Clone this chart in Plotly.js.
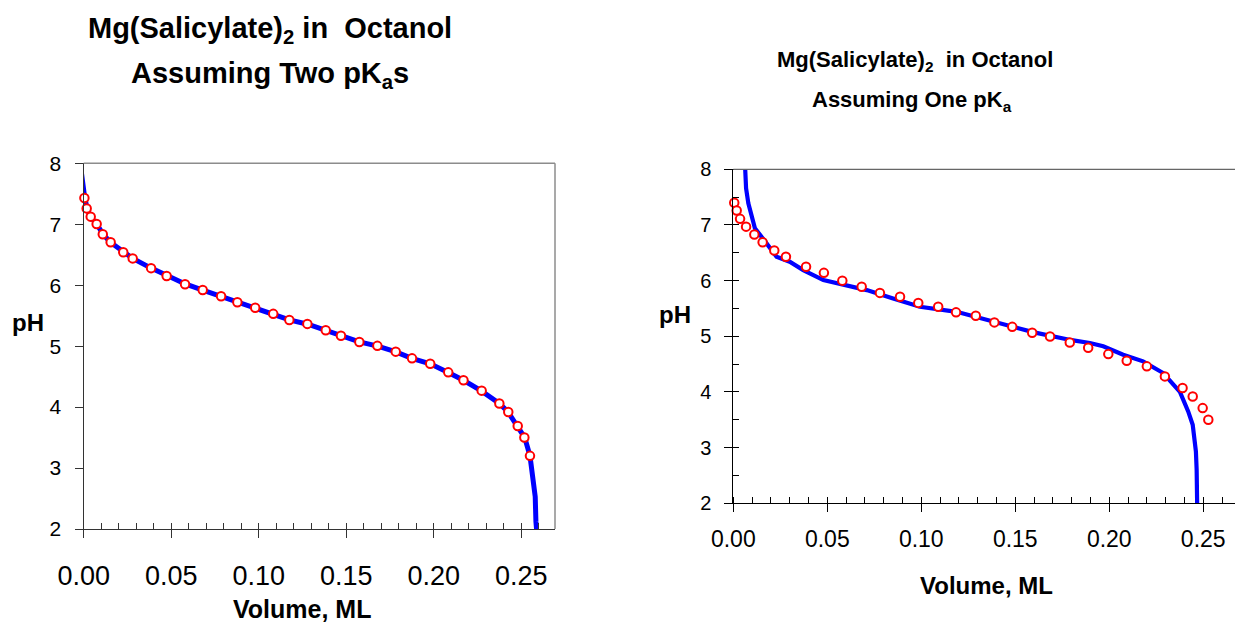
<!DOCTYPE html>
<html>
<head>
<meta charset="utf-8">
<script src="https://cdn.plot.ly/plotly-3.0.1.min.js"></script>
<style>html,body{margin:0;padding:0;background:#fff;}#chart{width:1235px;height:624px;}</style>
</head>
<body>
<div id="chart"></div>
<script>
// ---- Data ----
const leftVolObs = [-0.001, 0.0004, 0.0017, 0.004, 0.0074, 0.0109, 0.0154, 0.0226, 0.028, 0.0385, 0.0474, 0.0579, 0.068, 0.0785, 0.0878, 0.098, 0.1083, 0.1175, 0.1278, 0.1383, 0.147, 0.1575, 0.1678, 0.1783, 0.1876, 0.198, 0.2083, 0.217, 0.2274, 0.2375, 0.2426, 0.248, 0.2518, 0.255];
const leftPhObs = [7.45, 7.43, 7.26, 7.125, 7.005, 6.836, 6.705, 6.54, 6.44, 6.28, 6.15, 6.016, 5.92, 5.82, 5.72, 5.63, 5.53, 5.43, 5.365, 5.26, 5.17, 5.067, 5.005, 4.91, 4.80, 4.71, 4.57, 4.44, 4.27, 4.06, 3.92, 3.69, 3.50, 3.20];

const leftVolFit = [-0.0025, -0.0017, -0.0006, 0.0005, 0.002, 0.004, 0.0075, 0.011, 0.015, 0.0225, 0.028, 0.0385, 0.0475, 0.058, 0.068, 0.0785, 0.088, 0.098, 0.108, 0.1175, 0.128, 0.138, 0.147, 0.1575, 0.168, 0.178, 0.1875, 0.198, 0.208, 0.217, 0.227, 0.2375, 0.2425, 0.248, 0.252, 0.255, 0.2565, 0.258, 0.2584, 0.2592];
const leftPhFit = [8.11, 7.89, 7.67, 7.45, 7.25, 7.12, 7.0, 6.84, 6.71, 6.54, 6.44, 6.28, 6.15, 6.02, 5.92, 5.82, 5.72, 5.63, 5.53, 5.43, 5.36, 5.26, 5.17, 5.07, 5.0, 4.91, 4.80, 4.71, 4.57, 4.44, 4.27, 4.06, 3.92, 3.69, 3.50, 3.20, 2.9, 2.53, 2.12, 1.85];

const rightVolObs = [-0.0009, 0.0005, 0.0018, 0.0036, 0.0068, 0.0112, 0.0156, 0.0218, 0.028, 0.0387, 0.0482, 0.058, 0.0683, 0.078, 0.0887, 0.0984, 0.109, 0.1185, 0.129, 0.1389, 0.1484, 0.159, 0.1685, 0.179, 0.1888, 0.1995, 0.2093, 0.22, 0.2296, 0.239, 0.2444, 0.2497, 0.2527];
const rightPhObs = [7.44, 7.40, 7.26, 7.11, 6.97, 6.83, 6.69, 6.54, 6.43, 6.25, 6.14, 6.0, 5.89, 5.78, 5.71, 5.60, 5.53, 5.43, 5.37, 5.25, 5.17, 5.065, 4.995, 4.89, 4.795, 4.68, 4.56, 4.46, 4.28, 4.07, 3.92, 3.71, 3.50];

const rightVolFit = [0.0062, 0.0065, 0.0068, 0.008, 0.0098, 0.0115, 0.0177, 0.023, 0.030, 0.0372, 0.0479, 0.0603, 0.071, 0.085, 0.0993, 0.1188, 0.14, 0.16, 0.180, 0.1897, 0.1968, 0.2074, 0.218, 0.2287, 0.2376, 0.242, 0.2444, 0.2452, 0.2461, 0.2465, 0.2468];
const rightPhFit = [8.1, 7.9, 7.66, 7.39, 7.18, 6.94, 6.67, 6.43, 6.34, 6.19, 6.01, 5.92, 5.83, 5.68, 5.53, 5.44, 5.25, 5.07, 4.93, 4.88, 4.82, 4.67, 4.55, 4.34, 4.0, 3.65, 3.41, 3.20, 2.93, 2.6, 1.91];

const xTickVals = [0, 0.05, 0.10, 0.15, 0.20, 0.25];
const xTickText = ['0.00', '0.05', '0.10', '0.15', '0.20', '0.25'];
const yTickVals = [2, 3, 4, 5, 6, 7, 8];

const leftTitle1 = 'Mg(Salicylate)<sub>2</sub> in&nbsp; Octanol';
const leftTitle2 = 'Assuming Two pK<sub>a</sub>s';
const rightTitle1 = 'Mg(Salicylate)<sub>2</sub>&nbsp; in Octanol';
const rightTitle2 = 'Assuming One pK<sub>a</sub>';
const yTitle = 'pH';
const xTitle = 'Volume, ML';

// ---- Layout helpers ----
const W = 1235, H = 624;
const FONT = 'Arial, "Liberation Sans", sans-serif';
const px = v => v / W;
const py = v => 1 - v / H;

const traces = [
  {x: leftVolFit, y: leftPhFit, xaxis: 'x', yaxis: 'y', mode: 'lines',
   line: {color: '#0000ff', width: 5}, hoverinfo: 'skip'},
  {x: leftVolObs, y: leftPhObs, xaxis: 'x', yaxis: 'y', mode: 'markers', cliponaxis: false,
   marker: {symbol: 'circle', size: 8.5, color: '#ffffff', line: {color: '#ff0000', width: 2}}},
  {x: rightVolFit, y: rightPhFit, xaxis: 'x2', yaxis: 'y2', mode: 'lines',
   line: {color: '#0000ff', width: 4.2}, hoverinfo: 'skip'},
  {x: rightVolObs, y: rightPhObs, xaxis: 'x2', yaxis: 'y2', mode: 'markers', cliponaxis: false,
   marker: {symbol: 'circle', size: 8.5, color: '#ffffff', line: {color: '#ff0000', width: 2}}}
];

function ann(text, x, y, size) {
  return {text: '<b>' + text + '</b>', x: px(x), y: py(y), xref: 'paper', yref: 'paper',
          xanchor: 'center', yanchor: 'middle', showarrow: false,
          font: {family: FONT, size: size, color: '#000'}};
}

const layout = {
  width: W, height: H,
  margin: {l: 0, r: 0, t: 0, b: 0},
  paper_bgcolor: '#fff', plot_bgcolor: '#fff',
  showlegend: false,
  font: {family: FONT, color: '#000'},
  xaxis: {
    domain: [px(83.7), px(555)], range: [0, 0.2693], anchor: 'y',
    tickvals: xTickVals, ticktext: xTickText, ticks: 'outside', ticklen: 8, tickwidth: 1, tickcolor: '#333',
    minor: {dtick: 0.01, tick0: 0, ticks: 'inside', ticklen: 6, tickwidth: 1, tickcolor: '#333'},
    showline: true, linecolor: '#333', linewidth: 1.2, showgrid: false, zeroline: false,
    tickfont: {family: FONT, size: 27, color: '#000'}, ticklabelstandoff: 14
  },
  yaxis: {
    domain: [py(529), py(163.3)], range: [2, 8], anchor: 'x',
    tickvals: yTickVals, ticks: 'outside', ticklen: 8, tickwidth: 1, tickcolor: '#333',
    showline: true, linecolor: '#333', linewidth: 1.2, showgrid: false, zeroline: false,
    tickfont: {family: FONT, size: 21, color: '#000'}, ticklabelstandoff: 9
  },
  xaxis2: {
    domain: [px(733.3), 1], range: [0, 0.2669], anchor: 'y2',
    tickvals: xTickVals, ticktext: xTickText, ticks: 'outside', ticklen: 8, tickwidth: 1, tickcolor: '#000',
    minor: {dtick: 0.01, tick0: 0, ticks: 'inside', ticklen: 6, tickwidth: 1, tickcolor: '#000'},
    showline: true, linecolor: '#000', linewidth: 1, showgrid: false, zeroline: false,
    tickfont: {family: FONT, size: 23, color: '#000'}, ticklabelstandoff: 7
  },
  yaxis2: {
    domain: [py(503.3), py(169.3)], range: [2, 8], anchor: 'x2',
    tickvals: yTickVals, ticks: 'outside', ticklen: 8, tickwidth: 1, tickcolor: '#000',
    minor: {dtick: 0.5, tick0: 0, ticks: 'inside', ticklen: 6, tickwidth: 1, tickcolor: '#000'},
    showline: true, linecolor: '#000', linewidth: 1, showgrid: false, zeroline: false,
    tickfont: {family: FONT, size: 20, color: '#000'}, ticklabelstandoff: 9
  },
  shapes: [
    {type: 'line', xref: 'x domain', yref: 'y domain', x0: 0, x1: 1, y0: 1, y1: 1,
     line: {color: '#8c8c8c', width: 1.5}},
    {type: 'line', xref: 'x domain', yref: 'y domain', x0: 1, x1: 1, y0: 0, y1: 1,
     line: {color: '#8c8c8c', width: 1.5}},
    {type: 'line', xref: 'x2 domain', yref: 'y2 domain', x0: 0, x1: 1, y0: 1, y1: 1,
     line: {color: '#666666', width: 1.2}}
  ],
  annotations: [
    ann(leftTitle1, 270, 30, 29),
    ann(leftTitle2, 270, 75, 29),
    ann(rightTitle1, 915, 61, 22),
    ann(rightTitle2, 912, 101, 22),
    ann(yTitle, 28, 322, 24),
    ann(xTitle, 302, 609, 25),
    ann(yTitle, 675, 314, 24),
    ann(xTitle, 987, 585, 24)
  ]
};

Plotly.newPlot('chart', traces, layout, {displayModeBar: false, staticPlot: true});
</script>
</body>
</html>
